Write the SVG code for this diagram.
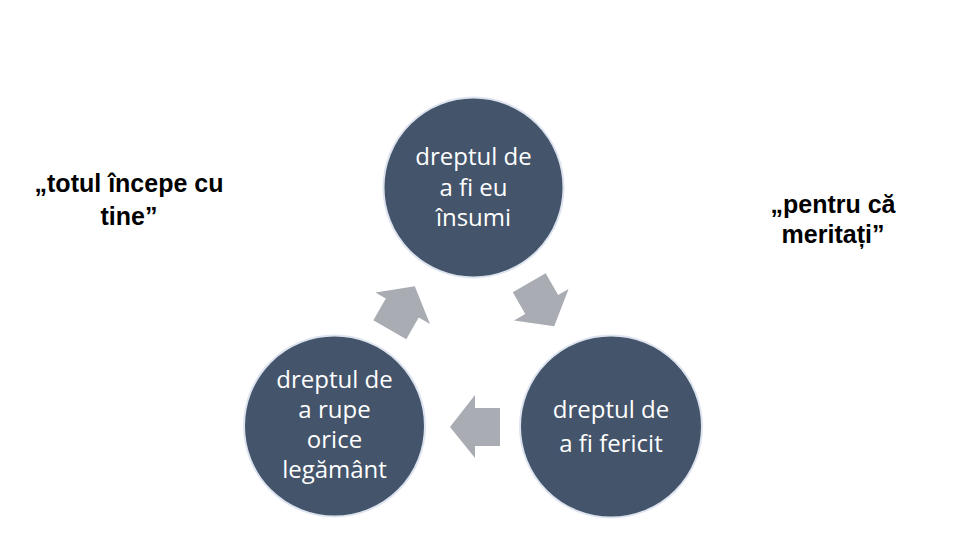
<svg xmlns="http://www.w3.org/2000/svg" width="960" height="540" viewBox="0 0 960 540">
<defs>
<style>
.node circle{fill:#44546a;stroke:#dde4ef;stroke-width:2}
.nt{font-family:"Open Sans","Liberation Sans",sans-serif;font-size:24px;fill:#ffffff;text-anchor:middle}
.qt{font-family:"Liberation Sans",Arial,sans-serif;font-size:25px;font-weight:bold;fill:#000000;text-anchor:middle}
.arr{fill:#a9acb3}
</style>
<polygon id="arrow" class="arr" points="450,427 475,395 475,408 500,408 500,446 475,446 475,458"/>
</defs>
<rect width="960" height="540" fill="#ffffff"/>
<g id="connectors">
<use href="#arrow"/>
<use href="#arrow" transform="rotate(-120 473 346.5)"/>
<use href="#arrow" transform="rotate(120 473 346.5)"/>
</g>
<g id="node-top" class="node">
<circle cx="473.5" cy="187.5" r="90"/>
<text class="nt" x="473.5" y="165">dreptul de</text>
<text class="nt" x="473.5" y="195.5">a fi eu</text>
<text class="nt" x="473.5" y="226">însumi</text>
</g>
<g id="node-right" class="node">
<circle cx="611" cy="426.5" r="91"/>
<text class="nt" x="611" y="418">dreptul de</text>
<text class="nt" x="611" y="451.5">a fi fericit</text>
</g>
<g id="node-left" class="node">
<circle cx="334.5" cy="426" r="90.5"/>
<text class="nt" x="334.5" y="388">dreptul de</text>
<text class="nt" x="334.5" y="418">a rupe</text>
<text class="nt" x="334.5" y="448">orice</text>
<text class="nt" x="334.5" y="478">legământ</text>
</g>
<g id="quote-left">
<text class="qt" x="129" y="192">„totul începe cu</text>
<text class="qt" x="129" y="225">tine”</text>
</g>
<g id="quote-right">
<text class="qt" x="833" y="213">„pentru că</text>
<text class="qt" x="833" y="243">meritați”</text>
</g>
</svg>
